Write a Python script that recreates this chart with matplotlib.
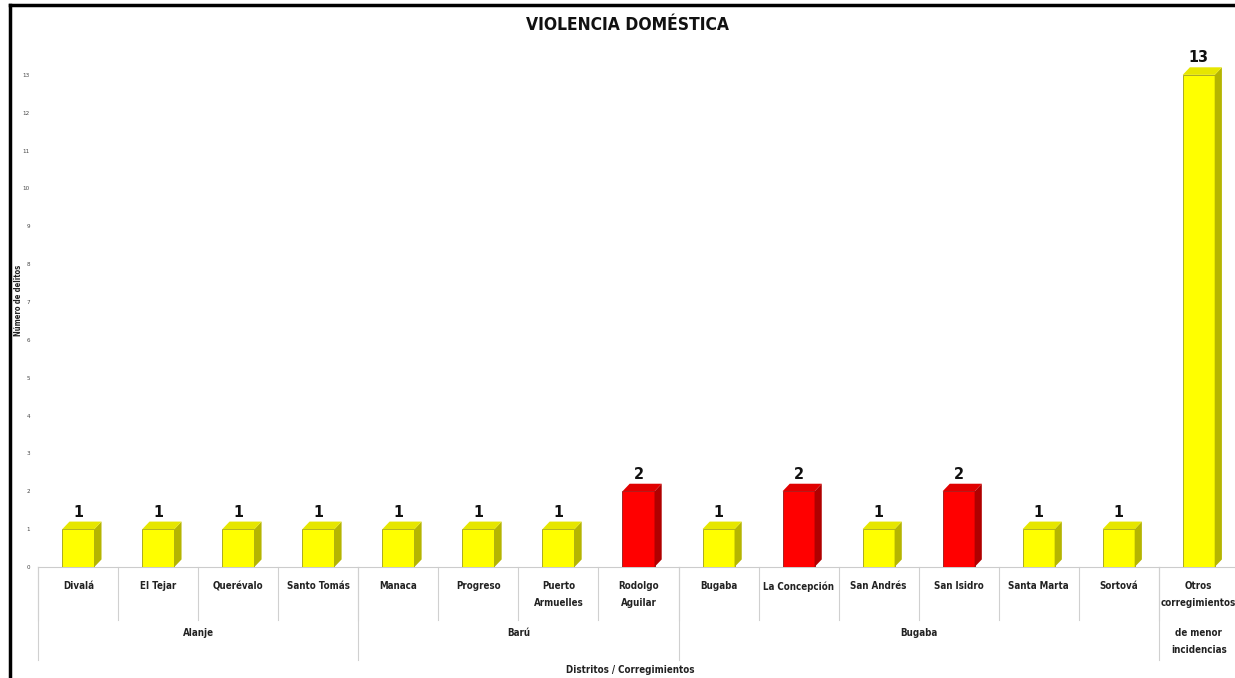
import matplotlib.pyplot as plt
from matplotlib.patches import Polygon
from matplotlib.lines import Line2D

categories = ["Divalá", "El Tejar", "Querévalo", "Santo Tomás", "Manaca", "Progreso",
              "Puerto\nArmuelles", "Rodolgo\nAguilar", "Bugaba", "La Concepción",
              "San Andrés", "San Isidro", "Santa Marta", "Sortová", "Otros\ncorregimientos"]
values = [1, 1, 1, 1, 1, 1, 1, 2, 1, 2, 1, 2, 1, 1, 13]
groups = ["Alanje", "Barú", "Bugaba", "de menor\nincidencias"]
group_sizes = [4, 4, 6, 1]

plt.rcParams['font.family'] = ['DejaVu Sans Condensed', 'Liberation Sans Narrow', 'DejaVu Sans']
plt.rcParams['font.stretch'] = 'condensed'

fig = plt.figure(figsize=(12.35, 6.78), dpi=100)
ax = fig.add_axes([0.031, 0.1637, 0.972, 0.7817])

width = 0.4
dx, dy = 0.09, 0.2
for i, v in enumerate(values):
    if v == 2:
        front, side, top, edge = "#ff0000", "#b00000", "#e00000", "#800000"
    else:
        front, side, top, edge = "#ffff00", "#b5b500", "#e6e600", "#8a8a00"
    x0 = i - width / 2
    x1 = i + width / 2
    ax.bar(i, v, width=width, color=front, edgecolor=edge, linewidth=0.5, zorder=3)
    ax.add_patch(Polygon([(x1, 0), (x1 + dx, dy), (x1 + dx, v + dy), (x1, v)],
                         closed=True, facecolor=side, edgecolor="none", zorder=3))
    ax.add_patch(Polygon([(x0, v), (x1, v), (x1 + dx, v + dy), (x0 + dx, v + dy)],
                         closed=True, facecolor=top, edgecolor="none", zorder=3))
    ax.text(i, v + dy + 0.05, str(v), ha="center", va="bottom", fontsize=11.5,
            fontweight="bold", color="#111111", zorder=4)

ax.set_xlim(-0.5, len(values) - 0.5)
ax.set_ylim(0, 14)
ax.set_yticks(range(0, 14))
ax.tick_params(axis="y", length=0, labelsize=4.5, labelcolor="#444444", pad=6)
ax.set_xticks([])
for s in ["top", "right", "left"]:
    ax.spines[s].set_visible(False)
ax.spines["bottom"].set_color("#cccccc")
ax.spines["bottom"].set_linewidth(0.8)

ah = 530.0
# category labels and short separators
for i, c in enumerate(categories):
    ax.text(i, -14 / ah, c, transform=ax.get_xaxis_transform(), ha="center", va="top",
            fontsize=7, fontweight="bold", color="#222222", linespacing=1.9, clip_on=False)
for i in range(len(categories) + 1):
    ax.plot([i - 0.5, i - 0.5], [0, -53 / ah], transform=ax.get_xaxis_transform(),
            color="#d0d0d0", linewidth=0.8, clip_on=False)

# group labels and long separators
start = 0
for g, n in zip(groups, group_sizes):
    center = start + (n - 1) / 2
    ax.text(center, -61 / ah, g, transform=ax.get_xaxis_transform(), ha="center", va="top",
            fontsize=7, fontweight="bold", color="#222222", linespacing=1.9, clip_on=False)
    ax.plot([start - 0.5, start - 0.5], [0, -93 / ah], transform=ax.get_xaxis_transform(),
            color="#d0d0d0", linewidth=0.8, clip_on=False)
    start += n
ax.plot([start - 0.5, start - 0.5], [0, -93 / ah], transform=ax.get_xaxis_transform(),
        color="#d0d0d0", linewidth=0.8, clip_on=False)

fig.text(0.51, 1 - 670 / 678, "Distritos / Corregimientos", ha="center", va="center",
         fontsize=7, fontweight="bold", color="#222222")
fig.text(0.0146, 1 - 300 / 678, "Número de delitos", ha="center", va="center",
         rotation=90, fontsize=5.5, fontweight="bold", color="#222222")
fig.text(0.508, 1 - 25 / 678, "VIOLENCIA DOMÉSTICA", ha="center", va="center",
         fontsize=12.5, fontweight="bold", color="#111111")

# frame lines at top and left
fig.add_artist(Line2D([10 / 1235, 1], [1 - 5 / 678, 1 - 5 / 678], color="black", linewidth=2.5))
fig.add_artist(Line2D([10 / 1235, 10 / 1235], [0, 1 - 5 / 678], color="black", linewidth=2.5))

fig.savefig("out.png", dpi=100)
